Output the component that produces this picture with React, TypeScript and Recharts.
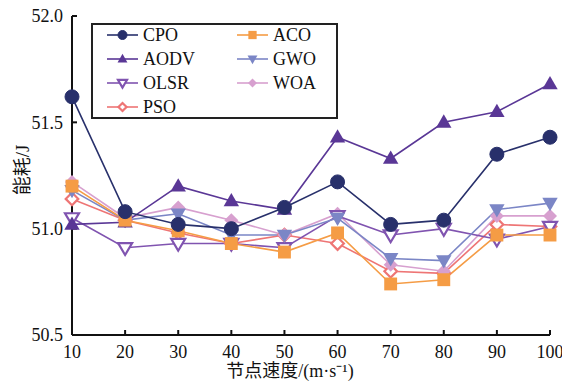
import React from 'react';
import { LineChart, Line, XAxis, YAxis } from 'recharts';

const speeds = [10, 20, 30, 40, 50, 60, 70, 80, 90, 100];
const cpo = [51.62, 51.08, 51.02, 51.0, 51.1, 51.22, 51.02, 51.04, 51.35, 51.43];
const aco = [51.2, 51.04, 50.99, 50.93, 50.89, 50.98, 50.74, 50.76, 50.97, 50.97];
const aodv = [51.02, 51.03, 51.2, 51.13, 51.09, 51.43, 51.33, 51.5, 51.55, 51.68];
const gwo = [51.18, 51.04, 51.07, 50.97, 50.97, 51.05, 50.86, 50.85, 51.09, 51.12];
const olsr = [51.05, 50.91, 50.93, 50.93, 50.91, 51.06, 50.97, 51.0, 50.95, 51.01];
const woa = [51.22, 51.05, 51.1, 51.04, 50.97, 51.07, 50.83, 50.8, 51.06, 51.06];
const pso = [51.14, 51.04, 50.98, 50.93, 50.97, 50.93, 50.8, 50.79, 51.02, 51.01];

const xTicks = [10, 20, 30, 40, 50, 60, 70, 80, 90, 100];
const yTicks = [50.5, 51.0, 51.5, 52.0];
const xLabel = '节点速度/(m·s⁻¹)';
const yLabel = '能耗/J';

type Shape = 'circle' | 'square' | 'triUp' | 'triDown' | 'triDownHollow' | 'diamond' | 'diamondHollow';

const series: { key: string; name: string; values: number[]; color: string; shape: Shape }[] = [
  { key: 'cpo', name: 'CPO', values: cpo, color: '#28306b', shape: 'circle' },
  { key: 'aco', name: 'ACO', values: aco, color: '#f59c45', shape: 'square' },
  { key: 'aodv', name: 'AODV', values: aodv, color: '#5a3796', shape: 'triUp' },
  { key: 'gwo', name: 'GWO', values: gwo, color: '#7b86c6', shape: 'triDown' },
  { key: 'olsr', name: 'OLSR', values: olsr, color: '#8054b0', shape: 'triDownHollow' },
  { key: 'woa', name: 'WOA', values: woa, color: '#d7a0cf', shape: 'diamond' },
  { key: 'pso', name: 'PSO', values: pso, color: '#ee7575', shape: 'diamondHollow' },
];

const data = speeds.map((s, i) => {
  const row: Record<string, number> = { speed: s };
  series.forEach((ser) => {
    row[ser.key] = ser.values[i];
  });
  return row;
});

const FONT = 'Liberation Serif, Times New Roman, Noto Sans CJK SC, serif';

function marker(shape: Shape, cx: number, cy: number, color: string, s: number, key?: string) {
  switch (shape) {
    case 'circle':
      return <circle key={key} cx={cx} cy={cy} r={s * 0.5} fill={color} stroke={color} strokeWidth={1} />;
    case 'square':
      return <rect key={key} x={cx - s * 0.46} y={cy - s * 0.46} width={s * 0.92} height={s * 0.92} fill={color} />;
    case 'triUp': {
      const h = s * 0.95;
      return (
        <polygon key={key}
          points={`${cx},${cy - h * 0.6} ${cx - s * 0.55},${cy + h * 0.4} ${cx + s * 0.55},${cy + h * 0.4}`}
          fill={color}
        />
      );
    }
    case 'triDown': {
      const h = s * 0.95;
      return (
        <polygon key={key}
          points={`${cx},${cy + h * 0.6} ${cx - s * 0.55},${cy - h * 0.4} ${cx + s * 0.55},${cy - h * 0.4}`}
          fill={color}
        />
      );
    }
    case 'triDownHollow': {
      const h = s * 0.85;
      return (
        <polygon key={key}
          points={`${cx},${cy + h * 0.6} ${cx - s * 0.5},${cy - h * 0.4} ${cx + s * 0.5},${cy - h * 0.4}`}
          fill="#fff"
          stroke={color}
          strokeWidth={2.2}
        />
      );
    }
    case 'diamond': {
      const r = s * 0.5;
      return (
        <polygon key={key}
          points={`${cx},${cy - r} ${cx + r},${cy} ${cx},${cy + r} ${cx - r},${cy}`}
          fill={color}
        />
      );
    }
    case 'diamondHollow': {
      const r = s * 0.45;
      return (
        <polygon key={key}
          points={`${cx},${cy - r} ${cx + r},${cy} ${cx},${cy + r} ${cx - r},${cy}`}
          fill="#fff"
          stroke={color}
          strokeWidth={2.2}
        />
      );
    }
  }
  return null;
}

function makeDot(shape: Shape, color: string) {
  return (props: any) => {
    const { cx, cy, index } = props;
    if (cx == null || cy == null) return <g key={index} />;
    return <g key={index}>{marker(shape, cx, cy, color, 14)}</g>;
  };
}

const legendOrder = [
  ['cpo', 'aco'],
  ['aodv', 'gwo'],
  ['olsr', 'woa'],
  ['pso'],
];

function LegendBox() {
  return (
    <svg
      width={247}
      height={96}
      style={{ position: 'absolute', left: 91, top: 23 }}
    >
      <rect x={1} y={1} width={245} height={94} fill="#fff" stroke="#222" strokeWidth={2} />
      {legendOrder.map((row, r) =>
        row.map((k, c) => {
          const ser = series.find((s) => s.key === k)!;
          const x0 = c === 0 ? 16 : 146;
          const y = 12 + r * 24;
          return (
            <g key={k}>
              <line x1={x0} x2={x0 + 31} y1={y} y2={y} stroke={ser.color} strokeWidth={1.6} />
              {marker(ser.shape, x0 + 15.5, y, ser.color, 9)}
              <text
                x={x0 + 36}
                y={y}
                dy="0.35em"
                fontSize={18}
                fontFamily={FONT}
                fill="#111"
              >
                {ser.name}
              </text>
            </g>
          );
        })
      )}
    </svg>
  );
}

export default function App() {
  const drawOrder = [...series].reverse();
  return (
    <div style={{ position: 'absolute', left: 0, top: 0, width: 562, height: 384, background: '#fff' }}>
      <LineChart
        width={562}
        height={384}
        data={data}
        margin={{ top: 16, right: 12, bottom: 0, left: 0 }}
      >
        <XAxis
          dataKey="speed"
          type="number"
          domain={[10, 100]}
          ticks={xTicks}
          interval={0}
          height={49}
          axisLine={{ stroke: '#111', strokeWidth: 2 }}
          tickLine={{ stroke: '#111', strokeWidth: 2 }}
          tickSize={-5}
          tickMargin={15}
          tick={{ fill: '#111', fontSize: 18, fontFamily: FONT }}
          label={{
            content: () => (
              <text
                x={290}
                y={377}
                textAnchor="middle"
                fontSize={18}
                fontFamily={FONT}
                fill="#111"
              >
                {xLabel}
              </text>
            ),
          }}
        />
        <XAxis
          xAxisId="top"
          dataKey="speed"
          type="number"
          domain={[10, 100]}
          orientation="top"
          height={0}
          tick={false}
          tickLine={false}
          axisLine={{ stroke: '#111', strokeWidth: 2 }}
        />
        <YAxis
          type="number"
          domain={[50.5, 52]}
          ticks={yTicks}
          interval={0}
          width={72}
          axisLine={{ stroke: '#111', strokeWidth: 2 }}
          tickLine={{ stroke: '#111', strokeWidth: 2 }}
          tickSize={-5}
          tickMargin={14}
          tickFormatter={(v: number) => v.toFixed(1)}
          tick={{ fill: '#111', fontSize: 18, fontFamily: FONT }}
          label={{
            content: () => (
              <text
                x={22}
                y={170}
                transform="rotate(-90 22 170)"
                textAnchor="middle"
                dominantBaseline="central"
                fontSize={19}
                fontFamily={FONT}
                fill="#111"
              >
                {yLabel}
              </text>
            ),
          }}
        />
        <YAxis
          yAxisId="right"
          orientation="right"
          type="number"
          domain={[50.5, 52]}
          width={0}
          tick={false}
          tickLine={false}
          axisLine={{ stroke: '#111', strokeWidth: 2 }}
        />
        {drawOrder.map((ser) => (
          <Line
            key={ser.key}
            dataKey={ser.key}
            name={ser.name}
            stroke={ser.color}
            strokeWidth={1.6}
            dot={makeDot(ser.shape, ser.color)}
            activeDot={false}
            isAnimationActive={false}
          />
        ))}
      </LineChart>
      <LegendBox />
    </div>
  );
}
